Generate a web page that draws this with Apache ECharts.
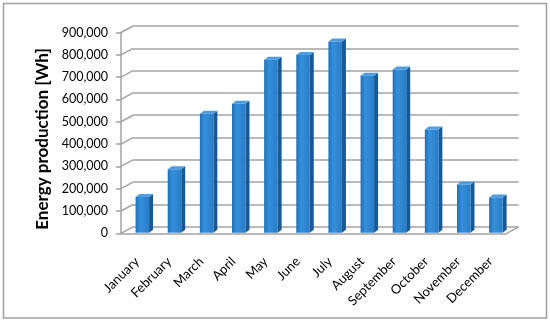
<!DOCTYPE html>
<html><head><meta charset="utf-8">
<script src="https://cdn.jsdelivr.net/npm/echarts@6/dist/echarts.min.js"></script>
<style>html,body{margin:0;padding:0;background:#fff}#c{width:550px;height:324px}</style>
</head><body><div id="c"></div>
<script>
const months = ['January','February','March','April','May','June','July','August','September','October','November','December'];
const energyWh = [160000, 284000, 533000, 578000, 775000, 796000, 857000, 704000, 732000, 462000, 216000, 158000];
const yTicks = [0, 100000, 200000, 300000, 400000, 500000, 600000, 700000, 800000, 900000];
const yTitle = 'Energy production [Wh]';

const FONT = 'Lato';
const GRID_COL = '#a3a3a3';
const DX = 12, DY = -6.5;

const chart = echarts.init(document.getElementById('c'), null, {renderer: 'canvas'});
const frontGrad = new echarts.graphic.LinearGradient(0, 0, 1, 0, [
  {offset: 0, color: '#2270b4'}, {offset: 0.35, color: '#3490dc'}, {offset: 1, color: '#2a7cc6'}
]);

chart.setOption({
  animation: false,
  grid: [
    {left: 121, right: 43.3, top: 32.5, bottom: 90.7},
    {left: 121 + DX, right: 43.3 - DX, top: 32.5 + DY, bottom: 90.7 - DY}
  ],
  xAxis: [
    {gridIndex: 0, type: 'category', data: months,
     axisLine: {lineStyle: {color: GRID_COL, width: 1.5}},
     axisTick: {length: 5, lineStyle: {color: GRID_COL, width: 1.5}},
     axisLabel: {rotate: 45, margin: 26, fontFamily: FONT, fontSize: 13, color: '#000', interval: 0}},
    {gridIndex: 1, type: 'category', data: months, show: false}
  ],
  yAxis: [
    {gridIndex: 0, type: 'value', min: 0, max: 900000, interval: 100000,
     axisLine: {show: true, lineStyle: {color: GRID_COL, width: 1.5}},
     axisTick: {show: true, length: 5, lineStyle: {color: GRID_COL, width: 1.5}},
     splitLine: {show: false},
     axisLabel: {margin: 13, fontFamily: FONT, fontSize: 12.5, color: '#000',
       formatter: v => v.toLocaleString('en-US')}},
    {gridIndex: 1, type: 'value', min: 0, max: 900000, interval: 100000,
     axisLine: {show: false}, axisTick: {show: false}, axisLabel: {show: false},
     splitLine: {show: true, lineStyle: {color: GRID_COL, width: 1.5}}}
  ],
  graphic: [
    {type: 'rect', z: -10, shape: {x: 3.5, y: 3.5, width: 543, height: 314.5},
     style: {fill: 'none', stroke: '#a0a0a0', lineWidth: 1.5}},
    {type: 'text', x: 43, y: 139, rotation: Math.PI / 2,
     style: {text: yTitle, font: 'bold 17px ' + FONT, fill: '#000', align: 'center', verticalAlign: 'middle'}}
  ],
  series: [
    {type: 'custom', xAxisIndex: 0, yAxisIndex: 0, silent: true, z: 1,
     data: yTicks.map(v => [0, v]),
     renderItem: function (params, api) {
       const p = api.coord([0, api.value(1)]);
       const cs = params.coordSys;
       const x = cs.x;
       const children = [{type: 'line', shape: {x1: x, y1: p[1], x2: x + DX, y2: p[1] + DY},
         style: {stroke: GRID_COL, lineWidth: 1.5}}];
       if (api.value(1) === 0) {
         children.push({type: 'line', shape: {x1: x + cs.width, y1: p[1], x2: x + cs.width + DX, y2: p[1] + DY},
           style: {stroke: GRID_COL, lineWidth: 1.5}});
       }
       return {type: 'group', children: children};
     }},
    {type: 'custom', xAxisIndex: 0, yAxisIndex: 0, z: 5,
     data: energyWh.map((v, i) => [i, v]),
     renderItem: function (params, api) {
       const i = api.value(0), v = api.value(1);
       const top = api.coord([i, v]);
       const base = api.coord([i, 0]);
       const oy = -0.6;
       const x0 = top[0] - 1.5, x1 = top[0] + 12;
       const dx = 4, dy = -3;
       const yt = top[1] + oy, yb = base[1] + oy;
       return {type: 'group', children: [
         {type: 'polygon', shape: {points: [[x1, yt], [x1 + dx, yt + dy], [x1 + dx, yb + dy], [x1, yb]]},
          style: {fill: '#1a5a94'}},
         {type: 'polygon', shape: {points: [[x0, yt], [x0 + dx, yt + dy], [x1 + dx, yt + dy], [x1, yt]]},
          style: {fill: '#4f9de0'}},
         {type: 'rect', shape: {x: x0, y: yt, width: x1 - x0, height: yb - yt},
          style: {fill: frontGrad}}
       ]};
     }}
  ]
});
</script></body></html>
